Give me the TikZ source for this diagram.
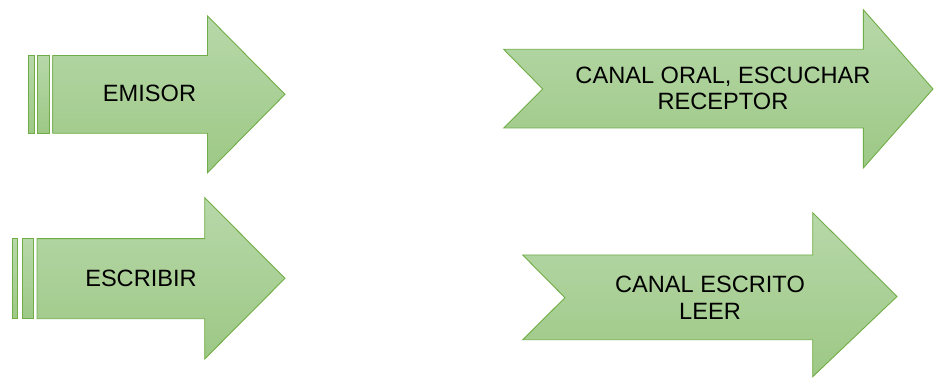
\documentclass[tikz,border=0pt]{standalone}
\usepackage{fontspec}
\setmainfont{Liberation Sans}
\definecolor{verdeborde}{HTML}{70AD47}
\definecolor{verdearriba}{HTML}{B7D8A9}
\definecolor{verdeabajo}{HTML}{9DC885}
\tikzset{
	%Define style for the green arrows
	flecha/.style={
		draw=verdeborde, line width=0.9pt,
		top color=verdearriba,
		bottom color=verdeabajo,
		line join=miter},
	% Define style for the labels
	rotulo/.style={
		align=center,
		font=\fontsize{23.6}{26.7}\selectfont,
		inner sep=0pt}
}

\begin{document}
\begin{tikzpicture}[x=1pt,y=-1pt]
	\useasboundingbox (0,0) rectangle (934,379);
	
	% emisor
	\draw[flecha] (28.7,55.5) rectangle (34.3,133.3);
	\draw[flecha] (37.7,55.5) rectangle (49,133.3);
	\draw[flecha] (52.7,55.5) -- (207.5,55.5) -- (207.5,16) -- (285,94.3)
		-- (207.5,172.7) -- (207.5,133.3) -- (52.7,133.3) -- cycle;
	\node[rotulo] (emisor) at (149.5,93.4) {EMISOR};
	
	% escribir
	\draw[flecha] (12,238.7) rectangle (17.7,318.7);
	\draw[flecha] (22,238.7) rectangle (33,318.7);
	\draw[flecha] (37,238.7) -- (204.7,238.7) -- (204.7,197.7) -- (285,278.3)
		-- (204.7,359) -- (204.7,318.7) -- (37,318.7) -- cycle;
	\node[rotulo] (escribir) at (141,278.5) {ESCRIBIR};
	
	% canal oral
	\draw[flecha] (503.7,49.3) -- (863.3,49.3) -- (863.3,9.7) -- (933,89)
		-- (863.3,168) -- (863.3,128) -- (503.7,128) -- (542.7,89) -- cycle;
	\node[rotulo] (oral) at (723,88.3) {CANAL ORAL, ESCUCHAR\\ RECEPTOR};
	
	% canal escrito
	\draw[flecha] (522.7,255) -- (812.7,255) -- (812.7,212.7) -- (897,296.5)
		-- (812.7,376.7) -- (812.7,339.7) -- (522.7,339.7) -- (565,297.7) -- cycle;
	\node[rotulo] (escrito) at (710,297.8) {CANAL ESCRITO\\ LEER};
	
\end{tikzpicture}
\end{document}
